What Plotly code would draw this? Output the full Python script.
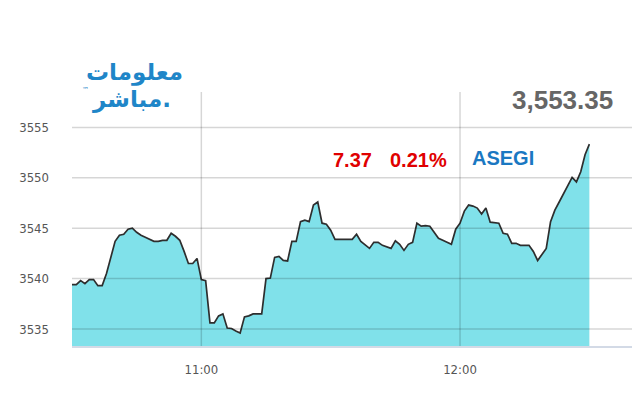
import pandas as pd
import plotly.graph_objects as go

# ---- data ----
start_time = "2024-01-01 10:30"
index_values = [
    3539.4, 3539.4, 3539.8, 3539.5, 3539.9, 3539.9, 3539.3, 3539.3, 3540.5, 3542.2,
    3543.7, 3544.3, 3544.4, 3544.9, 3545.0, 3544.6, 3544.3, 3544.1, 3543.9, 3543.7,
    3543.7, 3543.8, 3543.8, 3544.5, 3544.2, 3543.8, 3542.7, 3541.5, 3541.5, 3542.0,
    3539.9, 3539.8, 3535.6, 3535.6, 3536.3, 3536.5, 3535.1, 3535.05, 3534.8, 3534.6,
    3536.2, 3536.3, 3536.5, 3536.5, 3536.5, 3540.0, 3540.05, 3542.1, 3542.2, 3541.8,
    3541.75, 3543.7, 3543.7, 3545.65, 3545.8, 3545.65, 3547.3, 3547.6, 3545.5, 3545.4,
    3544.8, 3543.9, 3543.9, 3543.9, 3543.9, 3543.9, 3544.4, 3543.7, 3543.35, 3543.0,
    3543.6, 3543.6, 3543.3, 3543.15, 3543.0, 3543.75, 3543.4, 3542.8, 3543.4, 3543.6,
    3545.5, 3545.2, 3545.25, 3545.2, 3544.6, 3544.0, 3543.8, 3543.6, 3543.4, 3544.9,
    3545.5, 3546.7, 3547.3, 3547.2, 3547.0, 3546.4, 3547.0, 3545.6, 3545.55, 3545.5,
    3544.5, 3544.4, 3543.5, 3543.5, 3543.3, 3543.3, 3543.3, 3542.7, 3541.8, 3542.4,
    3543.0, 3545.65, 3546.8, 3547.6, 3548.4, 3549.3, 3550.05, 3549.6, 3550.6, 3552.3,
    3553.35,
]
times = pd.date_range(start_time, periods=len(index_values), freq="min")

y_ticks = [3535, 3540, 3545, 3550, 3555]
x_ticks = ["2024-01-01 11:00", "2024-01-01 12:00"]
x_tick_labels = ["11:00", "12:00"]

last_value_text = "3,553.35"
change_text = "7.37"
change_pct_text = "0.21%"
index_name = "ASEGI"
logo_line1 = "معلومات"
logo_line2 = "مباشر."

# ---- figure ----
fig = go.Figure()
fig.add_trace(go.Scatter(
    x=times, y=index_values, mode="lines",
    line=dict(color="#2e2e2e", width=1.7),
    fill="tozeroy", fillcolor="#80e1ea",
    hoverinfo="skip",
))

grid_color = "rgba(0,0,0,0.16)"
shapes = []
for v in y_ticks:
    shapes.append(dict(type="line", xref="paper", x0=0, x1=1, yref="y", y0=v, y1=v,
                       line=dict(color=grid_color, width=1.5), layer="above"))
for t in x_ticks:
    shapes.append(dict(type="line", xref="x", x0=t, x1=t, yref="paper", y0=0, y1=1,
                       line=dict(color=grid_color, width=1.5), layer="above"))

tick_font = dict(family="DejaVu Sans Condensed, Liberation Sans Narrow, Arial Narrow, sans-serif",
                 size=13, color="#555555")

# page body has an 8px margin; plot area runs from x=72 to beyond the right window edge
fig.update_layout(
    width=640, height=392,
    margin=dict(l=64, r=0, t=84, b=54, autoexpand=False),
    paper_bgcolor="white", plot_bgcolor="white",
    showlegend=False,
    shapes=shapes,
    xaxis=dict(
        range=["2024-01-01 10:30:00", "2024-01-01 12:43:36"],
        tickvals=x_ticks, ticktext=x_tick_labels,
        showgrid=False, zeroline=False,
        showline=True, linecolor="#d3dae6", linewidth=2,
        ticks="", ticklabelstandoff=10, tickfont=tick_font,
    ),
    yaxis=dict(
        range=[3533.31, 3558.52],
        tickvals=y_ticks,
        showgrid=False, zeroline=False, showline=False,
        ticks="", ticklabelstandoff=22, tickfont=tick_font,
    ),
)

bold_sans = "Liberation Sans, Arial, sans-serif"
# paper coordinates below are for a plot area of 576 px wide starting at x=72
W = 576.0
def px(x):
    return (x - 72) / W

ann = [
    dict(text="<b>" + last_value_text + "</b>", x=px(562), y=0.9685,
         font=dict(family=bold_sans, size=26, color="#666666")),
    dict(text="<b>" + change_text + "</b>", x=px(352), y=0.732,
         font=dict(family=bold_sans, size=20, color="#e00000")),
    dict(text="<b>" + change_pct_text + "</b>", x=px(418), y=0.732,
         font=dict(family=bold_sans, size=20, color="#e00000")),
    dict(text="<b>" + index_name + "</b>", x=px(503), y=0.740,
         font=dict(family=bold_sans, size=20, color="#1a78c2")),
    dict(text=logo_line1, x=px(134), y=1.075,
         font=dict(family="DejaVu Sans", size=23, color="#1f86c8", weight="bold")),
    dict(text=logo_line2, x=px(131), y=0.972,
         font=dict(family="DejaVu Sans", size=23, color="#1f86c8", weight="bold")),
    dict(text="™", x=px(85), y=1.008, font=dict(family="DejaVu Sans", size=7, color="#1f86c8")),
]
for a in ann:
    a.update(xref="paper", yref="paper", showarrow=False, xanchor="center", yanchor="middle")
fig.update_layout(annotations=ann)

fig.write_html("out.html")
